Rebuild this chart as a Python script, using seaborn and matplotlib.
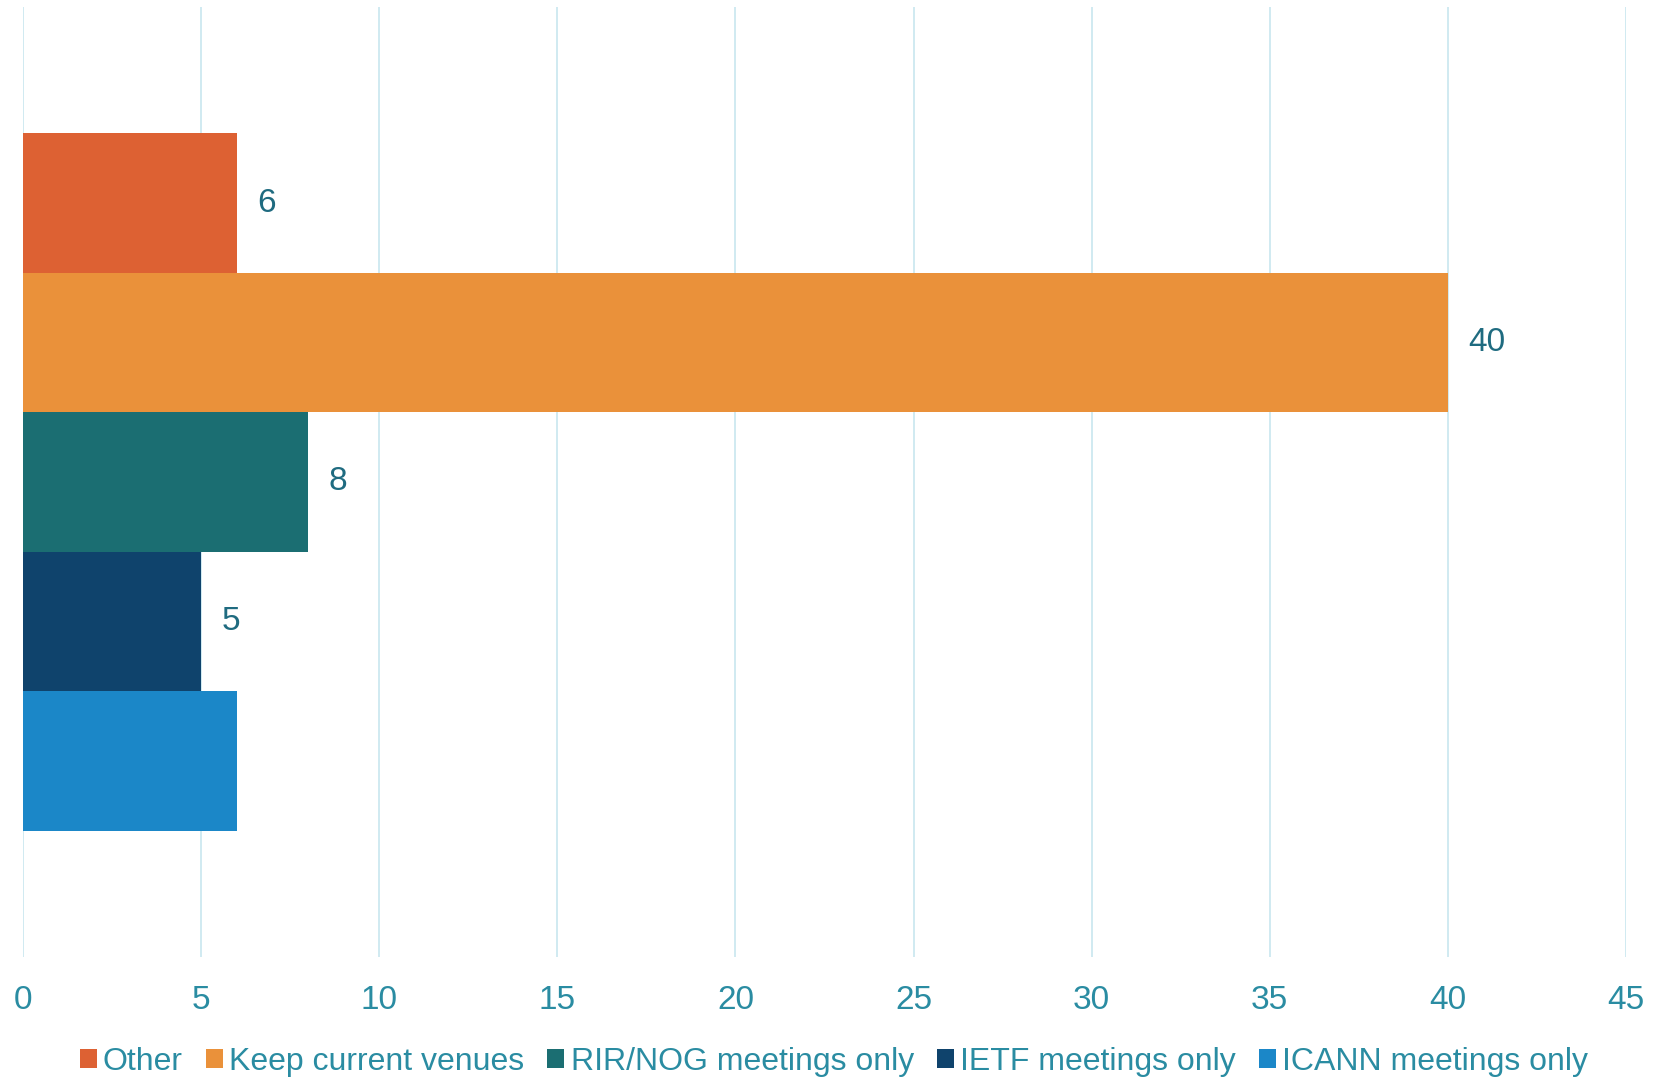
import matplotlib
matplotlib.use('Agg')
import matplotlib.pyplot as plt
from matplotlib.patches import Patch
import pandas as pd
import seaborn as sns

# Data
series = ['Other', 'Keep current venues', 'RIR/NOG meetings only',
          'IETF meetings only', 'ICANN meetings only']
values = [6, 40, 8, 5, 6]
show_label = [True, True, True, True, False]
colors = ['#DD6133', '#EA913A', '#1B6E72', '#0F436C', '#1B87C8']
x_ticks = [0, 5, 10, 15, 20, 25, 30, 35, 40, 45]

df = pd.DataFrame({'group': [''] * len(series), 'series': series, 'count': values})

sns.set_style('white')
plt.rcParams['font.family'] = ['Liberation Sans', 'DejaVu Sans']

fig = plt.figure(figsize=(16.57, 10.81), dpi=100)
ax = fig.add_axes([23 / 1657, 1 - 957 / 1081, (1626 - 23) / 1657, 950 / 1081])

sns.barplot(data=df, x='count', y='group', hue='series', hue_order=series,
            palette=colors, orient='h', width=0.734, saturation=1,
            linewidth=0, legend=False, ax=ax)

# Value labels
for cont, v, show in zip(ax.containers, values, show_label):
    ax.bar_label(cont, labels=[str(v) if show else ''], padding=15,
                 color='#1F6B80', fontsize=24)

ax.set_xlim(0, 45)
ax.set_ylim(0.5, -0.5)
ax.set_xticks(x_ticks)
ax.set_xticklabels([str(t) for t in x_ticks])
ax.set_yticks([])
ax.set_xlabel('')
ax.set_ylabel('')
ax.tick_params(axis='x', length=0, pad=20, labelsize=24, labelcolor='#2A8CA2')
for s in ax.spines.values():
    s.set_visible(False)
ax.grid(axis='x', color='#CDE8F0', linewidth=1.3)
ax.set_axisbelow(True)

# Legend
handles = [Patch(facecolor=c, edgecolor='none') for c in colors]
leg = fig.legend(handles, series, loc='center', ncol=5,
                 bbox_to_anchor=(834 / 1657, 1 - 1062 / 1081),
                 frameon=False, fontsize=23, handlelength=0.53, handleheight=0.53,
                 handletextpad=0.2, columnspacing=0.72, borderpad=0)
for t in leg.get_texts():
    t.set_color('#2A8CA2')

fig.savefig('out.png', dpi=100, facecolor='white')
